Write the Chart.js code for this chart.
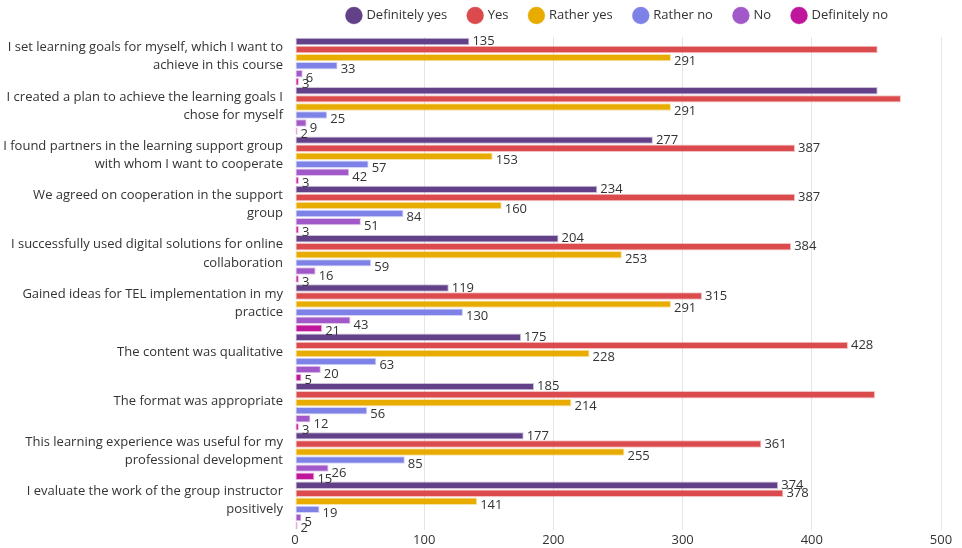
<!DOCTYPE html>
<html>
<head>
<meta charset="utf-8">
<script src="https://cdn.jsdelivr.net/npm/chart.js@4"></script>
<style>
  html, body { margin: 0; padding: 0; background: #fff; }
  #wrap { width: 962px; height: 548px; }
</style>
</head>
<body>
<div id="wrap"><canvas id="chart"></canvas></div>
<script>
const categories = [
  ["I set learning goals for myself, which I want to", "achieve in this course"],
  ["I created a plan to achieve the learning goals I", "chose for myself"],
  ["I found partners in the learning support group", "with whom I want to cooperate"],
  ["We agreed on cooperation in the support", "group"],
  ["I successfully used digital solutions for online", "collaboration"],
  ["Gained ideas for TEL implementation in my", "practice"],
  "The content was qualitative",
  "The format was appropriate",
  ["This learning experience was useful for my", "professional development"],
  ["I evaluate the work of the group instructor", "positively"]
];

const seriesNames = ["Definitely yes", "Yes", "Rather yes", "Rather no", "No", "Definitely no"];
const seriesColors = ["#634189", "#db4b4d", "#e8ac00", "#7e82e6", "#a159c9", "#c0169b"];

const definitelyYes = [135, 451, 277, 234, 204, 119, 175, 185, 177, 374];
const yes           = [451, 469, 387, 387, 384, 315, 428, 449, 361, 378];
const ratherYes     = [291, 291, 153, 160, 253, 291, 228, 214, 255, 141];
const ratherNo      = [33, 25, 57, 84, 59, 130, 63, 56, 85, 19];
const no            = [6, 9, 42, 51, 16, 43, 20, 12, 26, 5];
const definitelyNo  = [3, 2, 3, 3, 3, 21, 5, 3, 15, 2];

const xTicks = [0, 100, 200, 300, 400, 500];

const seriesValues = [definitelyYes, yes, ratherYes, ratherNo, no, definitelyNo];

// value labels sit slightly below the bar centre for the lower bars
const labelDy = [0, 0, 4, 4, 5, 3];
const FONT = "'Open Sans', 'Noto Sans', sans-serif";

const valueLabels = {
  id: "valueLabels",
  afterDatasetsDraw(chart) {
    const { ctx } = chart;
    ctx.save();
    ctx.font = `13px ${FONT}`;
    ctx.fillStyle = "#333";
    ctx.textBaseline = "middle";
    ctx.textAlign = "left";
    chart.data.datasets.forEach((ds, di) => {
      const meta = chart.getDatasetMeta(di);
      meta.data.forEach((bar, i) => {
        const v = ds.data[i];
        if (v >= 440) return; // long bars carry no label in the source
        ctx.fillText(String(v), bar.x + 3, bar.y + labelDy[di]);
      });
    });
    ctx.restore();
  }
};

// a little extra room between the legend and the bars
const legendGap = {
  id: "legendGap",
  afterInit(chart) {
    const lg = chart.legend;
    if (!lg) return;
    const fit = lg.fit.bind(lg);
    lg.fit = () => { fit(); lg.height += 5; };
  }
};

new Chart(document.getElementById("chart"), {
  type: "bar",
  data: {
    labels: categories,
    datasets: seriesNames.map((name, i) => ({
      label: name,
      data: seriesValues[i],
      backgroundColor: seriesColors[i],
      borderColor: seriesColors[i] + "55",
      borderWidth: 1,
      borderSkipped: false,
      barPercentage: 0.92,
      categoryPercentage: 0.98
    }))
  },
  options: {
    indexAxis: "y",
    responsive: true,
    maintainAspectRatio: false,
    animation: false,
    layout: { padding: { left: 4, right: 21, top: -13, bottom: 0 } },
    scales: {
      x: {
        min: 0, max: 500,
        border: { display: false },
        grid: {
          color: (c) => c.tick && c.tick.value === 0 ? "rgba(0,0,0,0)" : "#e6e6e6",
          drawTicks: false
        },
        ticks: {
          stepSize: 100,
          padding: 2,
          color: "#333",
          font: { family: FONT, size: 13 },
          callback: (v) => xTicks.includes(v) ? String(v) : ""
        },
        afterFit: (s) => { s.height = 18; }
      },
      y: {
        border: { display: false },
        grid: { display: false, drawTicks: false },
        ticks: {
          padding: 12,
          labelOffset: -5,
          color: "#333",
          font: { family: FONT, size: 13, lineHeight: 1.4 }
        },
        afterFit: (s) => { s.width = 291; s.paddingTop = 0; s.paddingBottom = 0; }
      }
    },
    plugins: {
      legend: {
        position: "top",
        fullSize: false,
        labels: {
          usePointStyle: true,
          pointStyle: "circle",
          boxWidth: 12,
          boxHeight: 12,
          padding: 22,
          color: "#333",
          font: { family: FONT, size: 13 }
        }
      },
      tooltip: { enabled: false }
    }
  },
  plugins: [valueLabels, legendGap]
});
</script>
</body>
</html>
